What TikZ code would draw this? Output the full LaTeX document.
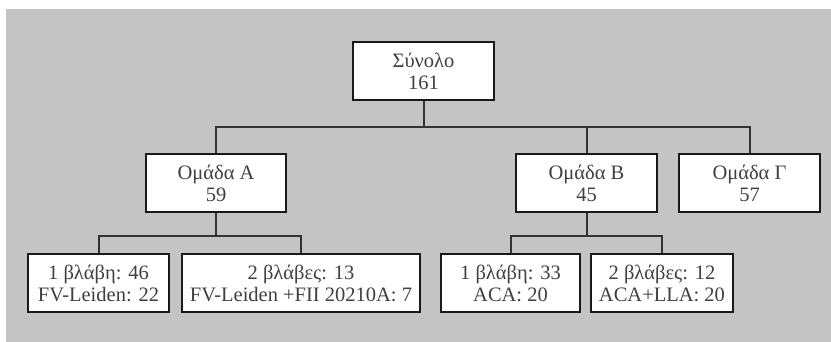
\documentclass[tikz,border=0pt]{standalone}
\usepackage{fontspec}
\setmainfont{Liberation Serif}
\begin{document}
\begin{tikzpicture}[x=1pt,y=1pt,
  box/.style={draw=black!90,line width=2pt,fill=white,align=center,inner sep=0pt,
    minimum height=58pt,text=black!75,font=\fontsize{20.5}{22}\selectfont},
  conn/.style={line width=2pt,draw=black!80}]
\useasboundingbox (0,0) rectangle (831,342);
\fill[black!23] (6,0) rectangle (831,333);
\node[box,minimum width=141pt] (top) at (423.5,271) {Σύνολο\\161};
\node[box,minimum width=140pt] (A) at (216,159) {Ομάδα Α\\59};
\node[box,minimum width=141pt] (B) at (586.5,159) {Ομάδα Β\\45};
\node[box,minimum width=141pt] (G) at (749.5,159) {Ομάδα Γ\\57};
\node[box,minimum width=141pt] (L1) at (98.5,58.5) {1 βλάβη: 46\\FV-Leiden: 22};
\node[box,minimum width=238pt] (L2) at (301,58.5) {2 βλάβες: 13\\FV-Leiden +FII 20210A: 7};
\node[box,minimum width=139pt] (L3) at (510.5,58.5) {1 βλάβη: 33\\ACA: 20};
\node[box,minimum width=142pt] (L4) at (662,58.5) {2 βλάβες: 12\\ACA+LLA: 20};
\coordinate (bus1) at (0,215);
\coordinate (bus2) at (0,106);
\draw[conn] (top.south) -- (top.south |- bus1);
\draw[conn] (A.north) -- (A.north |- bus1) -- (G.north |- bus1) -- (G.north);
\draw[conn] (B.north) -- (B.north |- bus1);
\draw[conn] (A.south) -- (A.south |- bus2);
\draw[conn] (L1.north) -- (L1.north |- bus2) -- (L2.north |- bus2) -- (L2.north);
\draw[conn] (B.south) -- (B.south |- bus2);
\draw[conn] (L3.north) -- (L3.north |- bus2) -- (L4.north |- bus2) -- (L4.north);
\end{tikzpicture}
\end{document}
